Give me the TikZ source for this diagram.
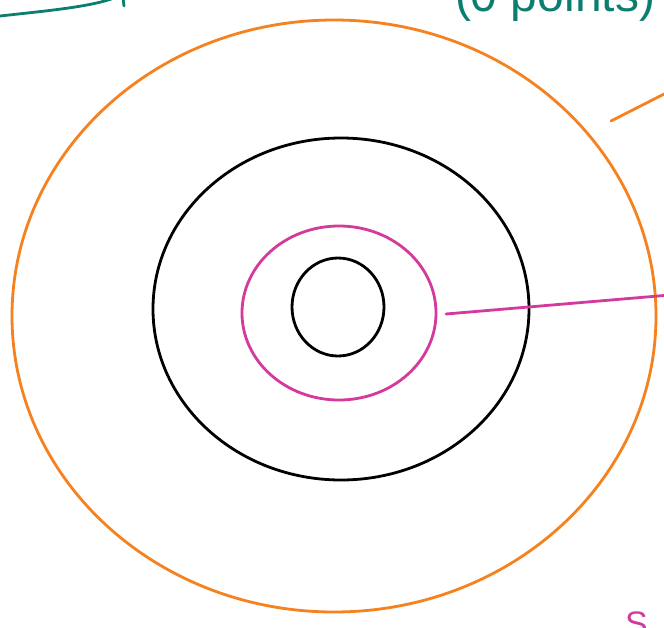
\documentclass[tikz,border=0pt]{standalone}
\usepackage{fontspec}
\setmainfont{Liberation Sans}
\usetikzlibrary{shapes.geometric}
\definecolor{ringorange}{HTML}{F5821F}
\definecolor{ringpink}{HTML}{D43A9C}
\definecolor{inkteal}{HTML}{0B7E70}
\tikzset{
  ring/.style={ellipse, inner sep=0pt, outer sep=0pt, line width=2.8pt},
  stroke/.style={line width=2.8pt, line cap=round},
  scribble/.style={inner sep=0pt, outer sep=0pt}
}
\begin{document}
\begin{tikzpicture}[x=1pt,y=-1pt]
\useasboundingbox (0,0) rectangle (664,627);
\fill[white] (0,0) rectangle (664,627);
% rings
\node[ring, draw=ringorange, minimum width=644pt, minimum height=592pt] (outer) at (334,316) {};
\node[ring, draw=black, minimum width=376pt, minimum height=342pt] (mid) at (341,309) {};
\node[ring, draw=ringpink, minimum width=194pt, minimum height=174pt] (pink) at (339,313) {};
\node[ring, draw=black, minimum width=92pt, minimum height=98pt] (core) at (338,307) {};
% leader lines
\coordinate (pinkend) at (670,295);
\draw[stroke, ringpink] ([xshift=10pt,yshift=-1pt]pink.east) -- (pinkend);
\coordinate (orangestart) at (611,121);
\coordinate (orangeend) at (672,90);
\draw[stroke, ringorange] (orangestart) -- (orangeend);
% teal scribble top-left
\coordinate (tealA) at (0,16);
\coordinate (tealB) at (114,-2);
\draw[stroke, inkteal] (tealA) .. controls (45,11) and (90,7) .. (tealB);
\coordinate (tickA) at (123,-2);
\coordinate (tickB) at (124,6);
\draw[stroke, inkteal] (tickA) -- (tickB);
% texts at the edges
\node[scribble, anchor=base west, text=inkteal, font=\fontsize{48}{52}\selectfont] (pts) at (455,11) {(0 points)};
\node[scribble, anchor=north west, text=ringpink, font=\fontsize{34}{38}\selectfont] (s) at (625,612) {S};
\end{tikzpicture}
\end{document}
